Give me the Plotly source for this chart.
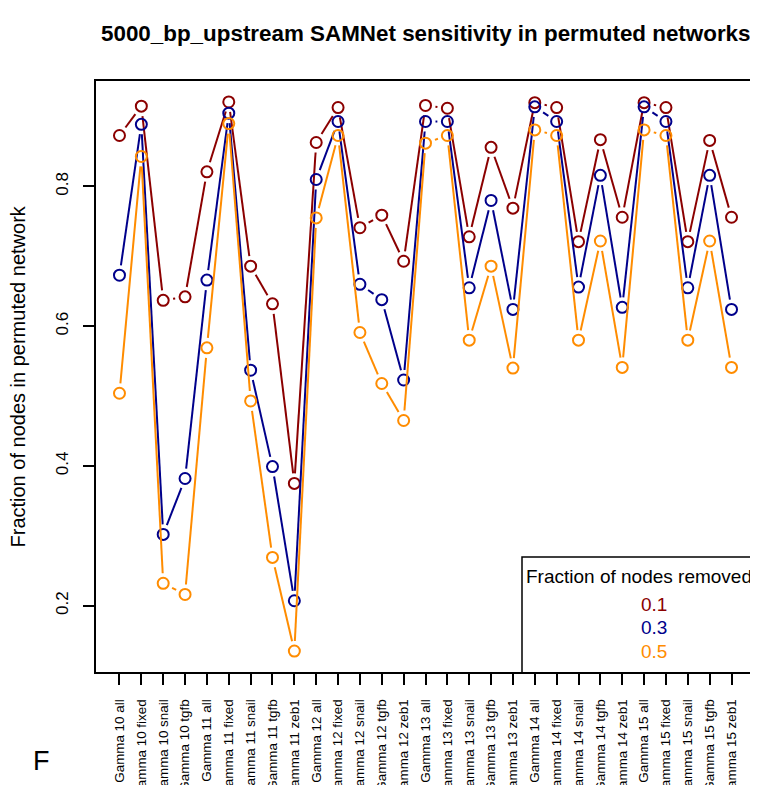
import numpy as np
import plotly.graph_objects as go

# categories along the x axis
categories = [
  "Gamma 10 all", "Gamma 10 fixed", "Gamma 10 snail", "Gamma 10 tgfb",
  "Gamma 11 all", "Gamma 11 fixed", "Gamma 11 snail", "Gamma 11 tgfb", "Gamma 11 zeb1",
  "Gamma 12 all", "Gamma 12 fixed", "Gamma 12 snail", "Gamma 12 tgfb", "Gamma 12 zeb1",
  "Gamma 13 all", "Gamma 13 fixed", "Gamma 13 snail", "Gamma 13 tgfb", "Gamma 13 zeb1",
  "Gamma 14 all", "Gamma 14 fixed", "Gamma 14 snail", "Gamma 14 tgfb", "Gamma 14 zeb1",
  "Gamma 15 all", "Gamma 15 fixed", "Gamma 15 snail", "Gamma 15 tgfb", "Gamma 15 zeb1",
]

# fraction of nodes removed = 0.1
removed_01 = [0.873, 0.915, 0.637, 0.642,
              0.821, 0.921, 0.686, 0.632, 0.375,
              0.863, 0.913, 0.741, 0.759, 0.693,
              0.916, 0.912, 0.728, 0.856, 0.769,
              0.920, 0.913, 0.721, 0.867, 0.756,
              0.920, 0.913, 0.721, 0.866, 0.756]
# 0.3
removed_03 = [0.673, 0.889, 0.302, 0.382,
              0.666, 0.905, 0.537, 0.399, 0.207,
              0.810, 0.893, 0.660, 0.638, 0.523,
              0.893, 0.893, 0.655, 0.780, 0.624,
              0.914, 0.893, 0.656, 0.816, 0.627,
              0.914, 0.893, 0.655, 0.816, 0.624]
# 0.5
removed_05 = [0.504, 0.843, 0.232, 0.216,
              0.569, 0.890, 0.493, 0.269, 0.135,
              0.755, 0.873, 0.591, 0.518, 0.465,
              0.862, 0.873, 0.580, 0.686, 0.540,
              0.881, 0.873, 0.580, 0.722, 0.541,
              0.881, 0.873, 0.580, 0.722, 0.541]

series_names = ["0.1", "0.3", "0.5"]
series_colors = ["#8B0000", "#00008B", "#FF8C00"]
y_ticks = [0.2, 0.4, 0.6, 0.8]

# page body has an 8px margin, so the figure is shrunk by that much
OFF = 8
W, H = 758 - OFF, 785 - OFF
ML, MR, MT, MB = 95 - OFF, 2, 80 - OFF, 112
pw, ph = W - ML - MR, H - MT - MB

xs = np.arange(1, len(categories) + 1)
xr = [1 - 0.04 * (len(xs) - 1), len(xs) + 0.04 * (len(xs) - 1)]
allv = np.concatenate([removed_01, removed_03, removed_05])
span = allv.max() - allv.min()
yr = [allv.min() - 0.04 * span, allv.max() + 0.04 * span]


def gapped(x, y, gap=10.0):
  # R type="b": segments stop short of the points
  px = (np.asarray(x) - xr[0]) / (xr[1] - xr[0]) * pw
  py = (np.asarray(y) - yr[0]) / (yr[1] - yr[0]) * ph
  lx, ly = [], []
  for i in range(len(px) - 1):
    dx, dy = px[i + 1] - px[i], py[i + 1] - py[i]
    L = np.hypot(dx, dy)
    if L <= 2 * gap:
      continue
    f = gap / L
    for t in (f, 1 - f):
      lx.append(xr[0] + (px[i] + t * dx) / pw * (xr[1] - xr[0]))
      ly.append(yr[0] + (py[i] + t * dy) / ph * (yr[1] - yr[0]))
    lx.append(None)
    ly.append(None)
  return lx, ly


fig = go.Figure()
for vals, col in zip([removed_01, removed_03, removed_05], series_colors):
  lx, ly = gapped(xs, vals)
  fig.add_trace(go.Scatter(x=lx, y=ly, mode="lines", line=dict(color=col, width=2),
                           hoverinfo="skip", showlegend=False))
  fig.add_trace(go.Scatter(x=xs, y=vals, mode="markers",
                           marker=dict(symbol="circle-open", size=11, color=col, line=dict(width=2)),
                           showlegend=False))

font = "Liberation Sans, Arial, Helvetica, sans-serif"
fig.update_layout(
  width=W, height=H, margin=dict(l=ML, r=MR, t=MT, b=MB, autoexpand=False),
  plot_bgcolor="white", paper_bgcolor="white",
  font=dict(family=font, color="black"),
  xaxis=dict(range=xr, tickvals=list(xs), ticktext=categories, tickangle=-90,
             ticks="outside", ticklen=11, tickwidth=1.5, tickcolor="black",
             ticklabelstandoff=9,
             showgrid=False, zeroline=False, showline=False, automargin=False,
             tickfont=dict(size=13.4, family=font)),
  yaxis=dict(range=yr, tickvals=y_ticks, ticktext=[str(t) for t in y_ticks], tickangle=-90,
             ticks="outside", ticklen=11, tickwidth=1.5, tickcolor="black",
             ticklabelstandoff=8,
             showgrid=False, zeroline=False, showline=False, automargin=False,
             tickfont=dict(size=17, family=font)),
)

# plot frame
fig.add_shape(type="rect", xref="paper", yref="paper", x0=0, x1=1, y0=0, y1=1,
              line=dict(color="black", width=2))


# screen pixel -> paper coordinate
def paper_x(p):
  return (p - OFF - ML) / pw


def paper_y(p):
  return (H + OFF - MB - p) / ph


anns = [
  dict(text="<b>5000_bp_upstream SAMNet sensitivity in permuted networks</b>",
       x=paper_x(426), y=paper_y(33), font=dict(size=22.4)),
  dict(text="Fraction of nodes in permuted network", x=paper_x(17), y=0.5,
       textangle=-90, font=dict(size=20)),
  dict(text="F", x=paper_x(41), y=paper_y(761), font=dict(size=27)),
  dict(text="Fraction of nodes removed", x=paper_x(639), y=paper_y(576), font=dict(size=19)),
]
for name, col, py in zip(series_names, series_colors, [604, 627, 651]):
  anns.append(dict(text=name, x=paper_x(654), y=paper_y(py), font=dict(size=19, color=col)))
for a in anns:
  a.update(xref="paper", yref="paper", showarrow=False, xanchor="center", yanchor="middle")
  a["font"]["family"] = font
  fig.add_annotation(**a)

# legend box
fig.add_shape(type="rect", xref="paper", yref="paper",
              x0=paper_x(522), x1=paper_x(757), y0=0, y1=paper_y(557),
              line=dict(color="black", width=1.5), fillcolor="white", layer="below")

fig.write_html("out.html")
